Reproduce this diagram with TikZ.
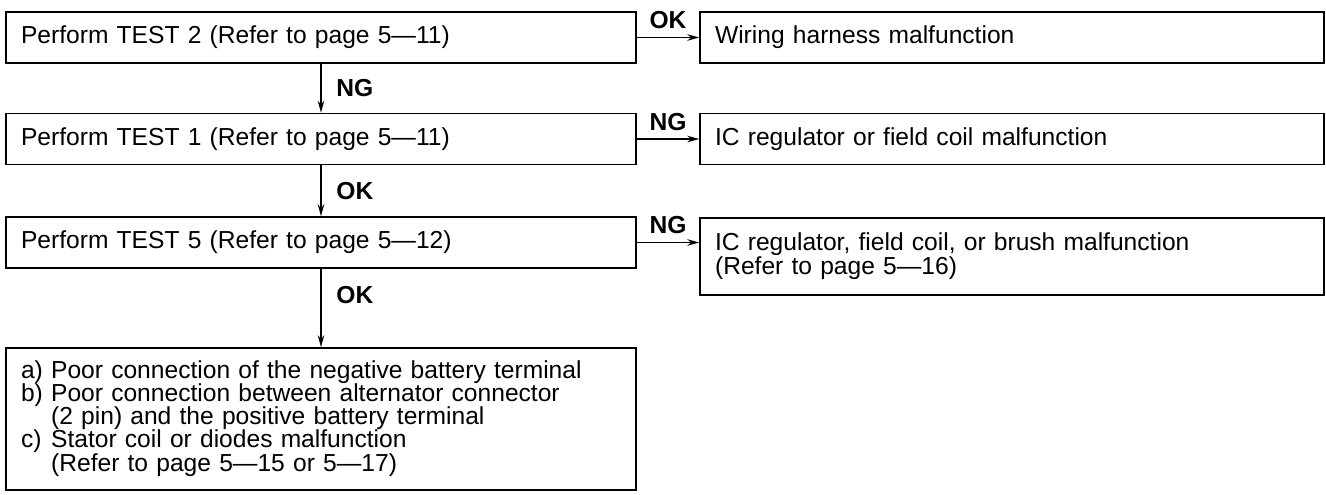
\documentclass[tikz,border=0pt]{standalone}
\usepackage{fontspec}
\setmainfont{Liberation Sans}
\usetikzlibrary{arrows.meta}

\begin{document}
\begin{tikzpicture}[x=0.02cm, y=-0.02cm,
  box/.style={draw, line width=0.9pt, inner xsep=0.3cm, inner ysep=0pt,
              font=\fontsize{14}{12.3}\selectfont, align=left},
  lbox/.style={box, text width=12.0cm, minimum height=1.02cm},
  rbox/.style={box, text width=11.88cm, minimum height=1.02cm},
  lab/.style={font=\fontsize{14}{14}\selectfont\bfseries},
  flow/.style={-{Stealth[length=2.4mm, width=1.3mm]}, line width=0.9pt},
]
  \useasboundingbox (0,0) rectangle (1326,494);
  % left column
  \node[lbox] (t2) at (321, 37.5)  {Perform TEST 2 (Refer to page 5—11)};
  \node[lbox] (t1) at (321, 139)   {Perform TEST 1 (Refer to page 5—11)};
  \node[lbox] (t5) at (321, 242.5) {Perform TEST 5 (Refer to page 5—12)};
  \node[lbox, minimum height=2.84cm] (res) at (321, 419)
    {\begin{tabular}{@{}l@{ }l@{}}
      a) & Poor connection of the negative battery terminal\\[-0.6pt]
      b) & Poor connection between alternator connector\\[-0.6pt]
         & (2 pin) and the positive battery terminal\\[-0.6pt]
      c) & Stator coil or diodes malfunction\\[-0.6pt]
         & (Refer to page 5—15 or 5—17)
     \end{tabular}};
  % right column
  \node[rbox] (r2) at (1012, 37.5) {Wiring harness malfunction};
  \node[rbox] (r1) at (1012, 139)  {IC regulator or field coil malfunction};
  \node[rbox, minimum height=1.54cm] (r5) at (1012, 256.5)
    {IC regulator, field coil, or brush malfunction\\[-0.5pt](Refer to page 5—16)};
  % connectors
  \draw[flow] (t2) -- node[lab, right=5pt] {NG} (t1);
  \draw[flow] (t1) -- node[lab, right=5pt] {OK} (t5);
  \draw[flow] (t5) -- node[lab, right=5pt, pos=0.33] {OK} (res);
  \draw[flow] (t2.east) -- node[lab, above=1pt] {OK} (r2.west);
  \draw[flow] (t1.east) -- node[lab, above=1pt] {NG} (r1.west);
  \draw[flow] (t5.east) -- node[lab, above=1pt] {NG} (t5.east -| r5.west);
\end{tikzpicture}
\end{document}
